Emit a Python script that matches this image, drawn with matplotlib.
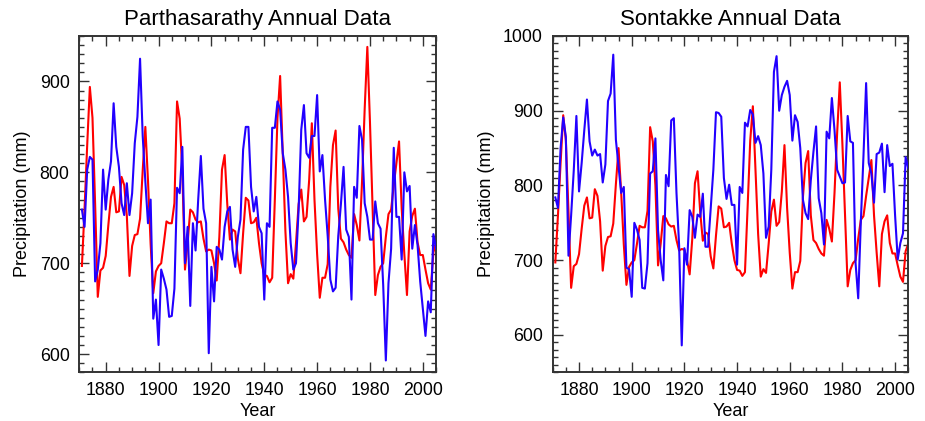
import numpy as np
import matplotlib
matplotlib.use("Agg")
import matplotlib.pyplot as plt
from matplotlib.ticker import MultipleLocator

years = list(range(1871, 2006))

red_model = [
    697, 760, 830, 894, 860, 765, 663, 692, 695, 708,
    742, 773, 784, 756, 757, 795, 786, 752, 686, 719,
    731, 732, 749, 802, 850, 791, 721, 667, 691, 697,
    700, 722, 746, 744, 744, 766, 878, 859, 800, 693,
    722, 759, 756, 748, 745, 746, 727, 713, 715, 714,
    700, 681, 729, 803, 819, 765, 726, 737, 735, 705,
    689, 733, 772, 769, 744, 745, 750, 722, 700, 687,
    686, 679, 684, 770, 860, 906, 820, 735, 678, 688,
    683, 722, 765, 781, 746, 751, 792, 854, 770, 710,
    662, 684, 684, 699, 784, 830, 846, 760, 727, 723,
    715, 709, 706, 754, 742, 725, 790, 870, 938, 855,
    760, 665, 687, 696, 700, 729, 754, 759, 786, 810,
    834, 760, 710, 665, 735, 752, 760, 723, 709, 709,
    693, 678, 671, 712, 722,
]

parth_obs = [
    759, 740, 803, 817, 814, 680, 693, 722, 803, 759,
    792, 812, 876, 828, 806, 766, 753, 788, 753, 777,
    832, 861, 925, 840, 790, 744, 770, 639, 660, 610,
    693, 683, 671, 641, 642, 672, 783, 777, 828, 700,
    740, 653, 744, 714, 770, 818, 760, 744, 601, 696,
    658, 718, 715, 704, 740, 757, 762, 715, 696, 729,
    748, 825, 850, 850, 784, 757, 773, 740, 733, 660,
    744, 740, 849, 849, 878, 869, 821, 803, 773, 722,
    693, 700, 759, 847, 874, 821, 816, 840, 840, 885,
    801, 819, 770, 730, 682, 669, 673, 730, 765, 806,
    737, 729, 660, 784, 772, 851, 836, 766, 751, 726,
    726, 768, 744, 738, 676, 593, 678, 716, 827, 751,
    751, 704, 800, 779, 785, 716, 742, 720, 680, 650,
    620, 658, 646, 732, 716,
]

sontakke_obs = [
    784, 770, 850, 891, 865, 706, 760, 820, 893, 792,
    830, 874, 915, 859, 840, 848, 840, 842, 804, 828,
    913, 923, 975, 861, 825, 790, 798, 690, 688, 651,
    750, 741, 727, 663, 662, 696, 816, 819, 863, 740,
    700, 673, 814, 799, 887, 890, 790, 720, 586, 716,
    694, 767, 758, 730, 761, 758, 789, 718, 718, 770,
    821, 898, 897, 892, 810, 782, 801, 774, 774, 694,
    798, 790, 884, 879, 901, 895, 857, 866, 854, 816,
    730, 745, 821, 952, 973, 900, 921, 932, 940, 921,
    860, 894, 885, 850, 781, 763, 755, 807, 845, 879,
    783, 763, 721, 872, 863, 917, 874, 821, 812, 803,
    804, 893, 859, 857, 696, 649, 752, 840, 937, 830,
    816, 777, 842, 844, 856, 791, 854, 826, 829, 760,
    701, 723, 736, 838, 823,
]

titles = ["Parthasarathy Annual Data", "Sontakke Annual Data"]
xlabel = "Year"
ylabel = "Precipitation (mm)"
xticks = [1880, 1900, 1920, 1940, 1960, 1980, 2000]

plt.rcParams['font.family'] = ['Liberation Sans', 'DejaVu Sans']

fig = plt.figure(figsize=(9.25, 4.21), dpi=100)
ax1 = fig.add_axes([0.0857, 0.1157, 0.3857, 0.7988])
ax2 = fig.add_axes([0.5975, 0.1157, 0.3844, 0.7988])

spine_col = '#333333'
red = '#ff0000'
blue = '#2200ff'

for ax, obs, title, ylim, yt in [
    (ax1, parth_obs, titles[0], (580, 950), [600, 700, 800, 900]),
    (ax2, sontakke_obs, titles[1], (550, 1000), [600, 700, 800, 900, 1000]),
]:
    ax.plot(years, red_model, color=red, lw=1.5, zorder=2)
    ax.plot(years, obs, color=blue, lw=1.5, zorder=3)
    ax.set_xlim(1870, 2005)
    ax.set_ylim(*ylim)
    ax.set_xticks(xticks)
    ax.set_yticks(yt)
    ax.xaxis.set_minor_locator(MultipleLocator(5))
    ax.yaxis.set_minor_locator(MultipleLocator(10))
    ax.tick_params(which='both', direction='in', top=True, right=True,
                   color=spine_col, labelsize=12.8, pad=7)
    ax.tick_params(which='major', length=7, width=1.0)
    ax.tick_params(which='minor', length=3.5, width=1.0)
    for s in ax.spines.values():
        s.set_color(spine_col)
        s.set_linewidth(1.4)
    ax.set_title(title, fontsize=16, pad=8)
    ax.set_xlabel(xlabel, fontsize=13, labelpad=3)
    ax.set_ylabel(ylabel, fontsize=13, labelpad=6)

fig.savefig("out.png", dpi=100)
